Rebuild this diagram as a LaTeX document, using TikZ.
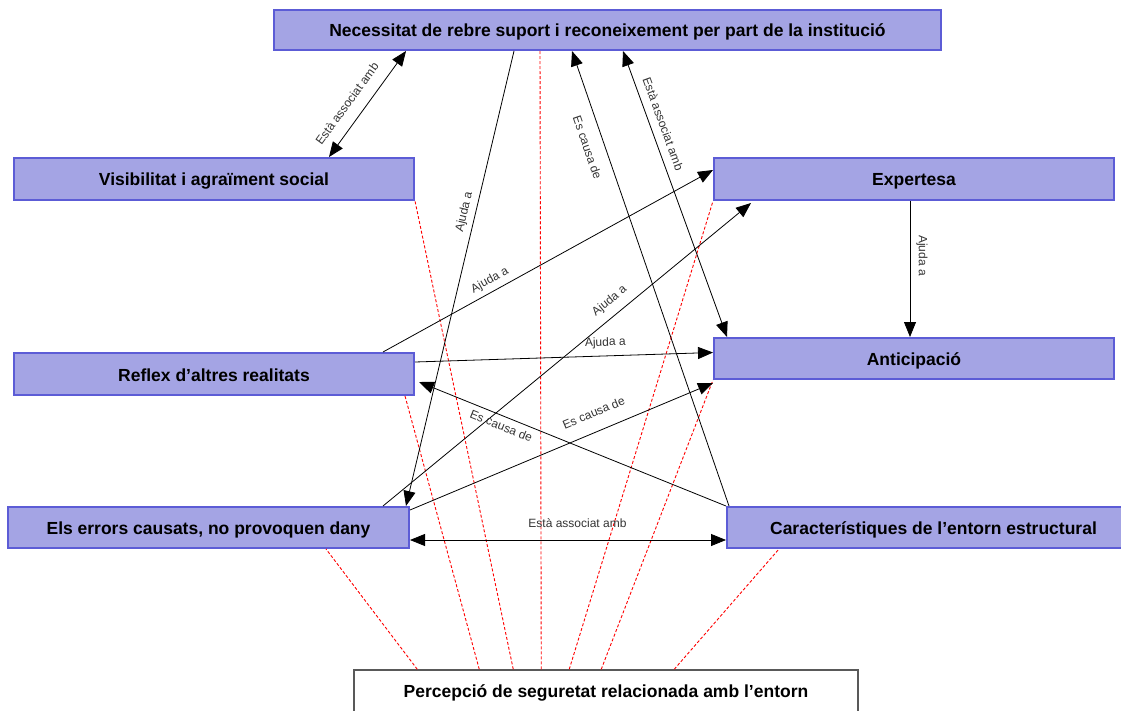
\documentclass[tikz,border=0pt]{standalone}
\usepackage{fontspec}
\setmainfont{Liberation Sans}
\usetikzlibrary{arrows.meta}
\definecolor{boxfill}{RGB}{164,164,228}
\definecolor{boxline}{RGB}{92,92,214}
\begin{document}
\begin{tikzpicture}[x=1pt,y=-1pt,>={Triangle[length=15pt,width=12pt]},line width=0.8pt]
	\tikzstyle{box}=[draw=boxline,fill=boxfill,line width=2pt,inner sep=0pt,text height=14pt,text depth=0pt,font=\fontsize{17.5}{20}\selectfont\bfseries]
	\tikzstyle{pbox}=[draw=black!65,fill=white,line width=1.5pt,inner sep=0pt,font=\fontsize{17.5}{20}\selectfont\bfseries]
	\tikzstyle{lbl}=[inner sep=0pt,text=black!80,font=\fontsize{12}{14}\selectfont]
	\tikzstyle{redline}=[red,dash pattern=on 3pt off 2pt,line width=0.9pt]
	\useasboundingbox (0,0) rectangle (1121,711);
	\draw
	node[box,minimum width=667pt,minimum height=40pt](N)at(607.5,30){Necessitat de rebre suport i reconeixement per part de la institució}
	node[box,minimum width=400pt,minimum height=42pt](V)at(214,179){Visibilitat i agraïment social}
	node[box,minimum width=400pt,minimum height=42pt](E)at(914,179){Expertesa}
	node[box,minimum width=400pt,minimum height=42pt](R)at(214,374){Reflex d’altres realitats}
	node[box,minimum width=400pt,minimum height=41pt](A)at(914,358.5){Anticipació}
	node[box,minimum width=401pt,minimum height=41pt](Er)at(208.5,527.5){Els errors causats, no provoquen dany}
	node[box,minimum width=413pt,minimum height=41pt](C)at(933.5,527.5){Característiques de l’entorn estructural}
	node[pbox,minimum width=504pt,minimum height=46pt](P)at(606,693){Percepció de seguretat relacionada amb l’entorn};
	
	\draw[redline]([xshift=64pt]P.north west)--([xshift=319pt]Er.south west);
	\draw[redline]([xshift=126pt]P.north west)--([xshift=-10pt]R.south east);
	\draw[redline]([xshift=160pt]P.north west)--(V.south east);
	\draw[redline]([xshift=188pt]P.north west)--([xshift=267pt]N.south west);
	\draw[redline]([xshift=216pt]P.north west)--(E.south west);
	\draw[redline]([xshift=248pt]P.north west)--(A.south west);
	\draw[redline]([xshift=321pt]P.north west)--([xshift=53pt]C.south west);
	
	\draw[<->]([xshift=316pt]V.north west)--([xshift=133pt]N.south west) node[lbl,pos=.41,sloped,above=12pt]{Està associat amb};
	\draw[->]([xshift=241pt]N.south west)--([xshift=-4pt]Er.north east) node[lbl,pos=.36,sloped,above=5pt]{Ajuda a};
	\draw[->]([xshift=3pt]C.north west)--([xshift=299pt]N.south west) node[lbl,pos=.8,sloped,below=12pt]{Es causa de};
	\draw[<->]([xshift=350pt]N.south west)--([xshift=14pt]A.north west) node[lbl,pos=.27,sloped,above=8pt]{Està associat amb};
	\draw[->]([xshift=-32pt]R.north east)--([yshift=9pt]E.west) node[lbl,pos=.34,sloped,above=5pt]{Ajuda a};
	\draw[->]([xshift=-27pt]Er.north east)--([xshift=38pt,yshift=-2pt]E.south west) node[lbl,pos=.64,sloped,above=8pt]{Ajuda a};
	\draw[->]([yshift=12pt]R.east)--([yshift=6pt]A.west) node[lbl,pos=.64,sloped,above=7pt]{Ajuda a};
	\draw[->]([xshift=-4pt]E.south)--([xshift=-4pt]A.north) node[lbl,pos=.4,sloped,above=6pt]{Ajuda a};
	\draw[->]([yshift=-4pt]Er.north east)--([yshift=-3pt]A.south west) node[lbl,pos=.63,sloped,above=14pt]{Es causa de};
	\draw[->](C.north west)--([xshift=4pt,yshift=-8pt]R.east) node[lbl,pos=.72,sloped,below=5pt]{Es causa de};
	\draw[<->]([yshift=-12.5pt]Er.east)--([yshift=-12.5pt]C.west) node[lbl,pos=.53,above=12pt]{Està associat amb};
\end{tikzpicture}
\end{document}
